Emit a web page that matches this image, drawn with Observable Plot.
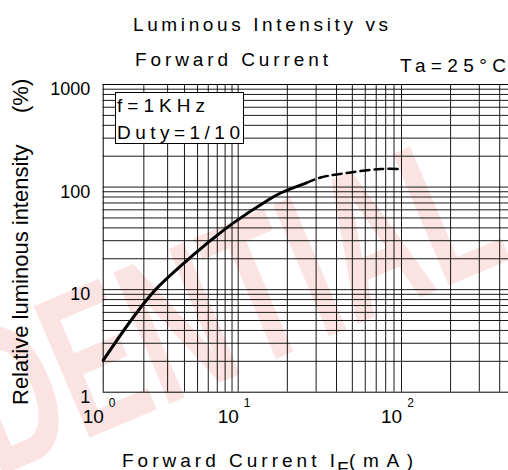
<!DOCTYPE html>
<html><head><meta charset="utf-8">
<script src="https://cdn.jsdelivr.net/npm/d3@7"></script>
<script src="https://cdn.jsdelivr.net/npm/@observablehq/plot@0.6"></script>
<style>
body{margin:0;background:#fff}
#wrap{position:relative;width:508px;height:470px;overflow:hidden;font-family:"Liberation Sans",Arial,sans-serif;background:#fff}
#wrap > svg{position:absolute;left:0;top:0}
#overlay,#bg{pointer-events:none}
</style></head><body>
<div id="wrap">
<svg id="bg" width="508" height="470" style="z-index:0">
<defs>
<linearGradient id="wm" gradientUnits="userSpaceOnUse" x1="0" y1="470" x2="508" y2="100">
<stop offset="0" stop-color="#e53935" stop-opacity="0.42"/>
<stop offset="0.5" stop-color="#e53935" stop-opacity="0.22"/>
<stop offset="1" stop-color="#e53935" stop-opacity="0.14"/>
</linearGradient>
</defs>
<text transform="translate(-377,636) rotate(-23) scale(1,1.6)" font-family="Liberation Sans, Arial, sans-serif" font-size="130" font-weight="bold" fill="url(#wm)">CONFIDENTIAL</text>
</svg>
<svg id="overlay" width="508" height="470" font-family="Liberation Sans, Arial, sans-serif" fill="#000" style="z-index:2">
<rect x="115.5" y="92.5" width="128" height="51" fill="#fff" stroke="#000" stroke-width="1"/>
<text x="117" y="112.3" font-size="19" textLength="88" lengthAdjust="spacing">f=1KHz</text>
<text x="117" y="139.3" font-size="19" textLength="123" lengthAdjust="spacing">Duty=1/10</text>
<text x="133" y="30.7" font-size="19" textLength="255" lengthAdjust="spacing">Luminous Intensity vs</text>
<text x="135" y="65.7" font-size="19" textLength="193" lengthAdjust="spacing">Forward Current</text>
<text x="400" y="71.7" font-size="19" textLength="106" lengthAdjust="spacing">Ta=25°C</text>
<text transform="translate(28,405) rotate(-90)" font-size="22">Relative luminous intensity</text>
<text transform="translate(28,113) rotate(-90)" font-size="22">(%)</text>
<text x="122" y="467" font-size="19" textLength="213" lengthAdjust="spacing">Forward Current I</text>
<text x="337" y="475" font-size="19">F</text>
<text x="349" y="467" font-size="19" textLength="64" lengthAdjust="spacing">(mA)</text>
</svg>
</div>
<script>
// Solid part of the curve (measured)
const solidCurrent   = [1, 1.64, 2.44, 4.31, 5.26, 6.23, 9.28, 15.1, 18.2, 26];
const solidIntensity = [2.04, 5.2, 10, 20, 25, 30, 45, 74, 87.5, 109.4];
// Dashed (extrapolated) part of the curve
const dashedCurrent   = [26, 32, 48.9, 74.7, 100];
const dashedIntensity = [109.4, 124, 139, 150, 150];

// Grid and tick values
const xGridValues = [2,3,4,5,6,7,8,9,10,20,30,40,50,60,70,80,90,100,200,300,400];
const yGridValues = [2,3,4,5,6,7,8,9,10,20,30,40,50,60,70,80,90,100,200,300,400,500,600,700,800,900];
const xTickValues = [1, 10, 100];
const xTickBase = ["10", "10", "10"];
const xTickExponents = ["0", "1", "2"];
const yTickValues = [1, 10, 100, 1000];
const yTickLabels = ["1", "10", "100", "1000"];

const solid = solidCurrent.map((c, i) => ({current: c, intensity: solidIntensity[i]}));
const dashed = dashedCurrent.map((c, i) => ({current: c, intensity: dashedIntensity[i]}));

const chart = Plot.plot({
  width: 508, height: 470,
  marginLeft: 102.7, marginRight: 0, marginTop: 84, marginBottom: 78.3,
  x: {type: "log", domain: [1, 10, 100, 453], range: [102.7, 237.7, 401, 508], axis: null},
  y: {type: "log", domain: [1, 1000], axis: null},
  style: {fontFamily: '"Liberation Sans", Arial, sans-serif', background: "transparent", color: "#000", overflow: "visible"},
  marks: [
    Plot.ruleX(xGridValues, {x: d => d, stroke: "#000", strokeOpacity: 0.9}),
    Plot.ruleY(yGridValues, {y: d => d, stroke: "#000", strokeOpacity: 0.9}),
    Plot.ruleX([1], {stroke: "#000"}),
    Plot.ruleY([1, 1000], {stroke: "#000"}),
    Plot.line(solid, {x: "current", y: "intensity", curve: "catmull-rom", stroke: "#000", strokeWidth: 3}),
    Plot.line(dashed, {x: "current", y: "intensity", curve: "catmull-rom", stroke: "#000", strokeWidth: 2.5, strokeDasharray: "9,5"}),
    Plot.text(yTickValues, {y: d => d, text: (d, i) => yTickLabels[i], frameAnchor: "left", textAnchor: "end",
      dx: -13, dy: 5, fontSize: 18}),
    Plot.text(xTickValues, {x: d => d, text: (d, i) => xTickBase[i], frameAnchor: "bottom", lineAnchor: "bottom",
      dx: -10, dy: 31, fontSize: 19}),
    Plot.text(xTickValues, {x: d => d, text: (d, i) => xTickExponents[i], frameAnchor: "bottom",
      dx: 9, dy: 15, fontSize: 12})
  ]
});
chart.style.zIndex = 1;
document.getElementById("wrap").appendChild(chart);
</script>
</body></html>
